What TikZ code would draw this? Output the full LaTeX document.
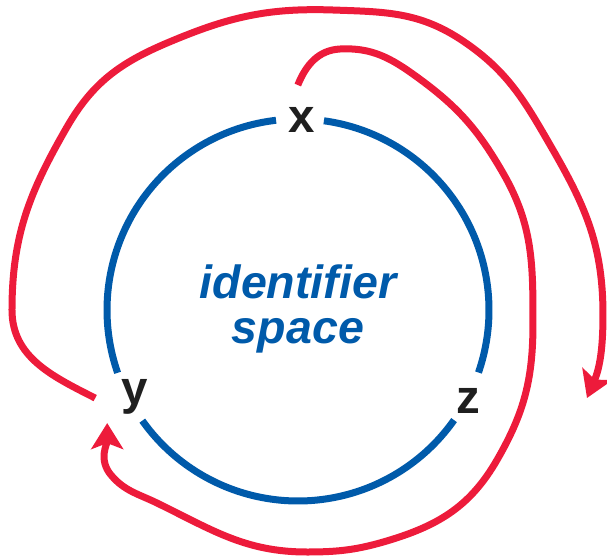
\documentclass[tikz,border=0pt]{standalone}
\usepackage{fontspec}
\setmainfont{Liberation Sans}
\definecolor{ringblue}{RGB}{0, 90, 170}
\definecolor{hopred}{RGB}{237, 27, 59}
\usetikzlibrary{arrows.meta}

\begin{document}
\begin{tikzpicture}[
        ring/.style={draw=ringblue, line width=0.14cm},
        hop/.style={draw=hopred, line width=0.14cm, -{Stealth[length=0.52cm, width=0.64cm, inset=0.12cm]}},
        lbl/.style={font=\fontsize{27}{27}\selectfont\bfseries, text=black!88, inner sep=0pt}
    ]
        \useasboundingbox (-5.96,-4.9) rectangle (6.18,6.2);

        % Identifier ring, broken at the three keys
        \foreach \a/\b in {96.6/199.2, 215.4/324.8, 340.9/442.2}
            \draw[ring] (\a:3.82) arc[start angle=\a, end angle=\b, radius=3.82];

        \node[font=\fontsize{26.5}{25.6}\selectfont\bfseries\itshape, text=ringblue, align=center, inner sep=0pt] (space) at (0,0.02) {identifier\\space};

        % Keys on the ring
        \node[lbl] (x) at (89:3.8) {x};
        \node[lbl] (y) at (208:3.71) {y};
        \node[lbl] (z) at (332:3.86) {z};

        % Ends of the two hops
        \coordinate (ya) at ([xshift=-0.78cm, yshift=-0.02cm]y.center);
        \coordinate (past) at (5.78,-1.76);
        \coordinate (xa) at ([xshift=-0.07cm, yshift=0.7cm]x.center);
        \coordinate (yb) at ([xshift=-0.54cm, yshift=-0.52cm]y.center);

        % Outer hop: from y over the top, past z
        \draw[hop] (ya) to[out=153, in=-90] (-5.72,0) to[out=90, in=240] (-4.62,3.66)
            to[out=60, in=203] (-2.62,5.34) to[out=23, in=178] (0.7,6)
            to[out=-2, in=146] (3.3,5.38) to[out=-34, in=120] (5.1,3.2)
            to[out=-60, in=90] (6.1,-0.1) to[out=-90, in=67] (past);

        % Inner hop: from x round the right and bottom back to y
        \draw[hop] (xa) to[out=68, in=183] (0.84,5.22) to[out=3, in=144] (2.38,4.66)
            to[out=-36, in=120] (4.1,2.74) to[out=-60, in=90] (4.7,-0.26)
            to[out=-90, in=60] (3.98,-3.0) to[out=-120, in=17] (1.84,-4.6)
            to[out=-163, in=0] (0.18,-4.84) to[out=180, in=-26] (-2.82,-3.86)
            to[out=154, in=-50] (-3.74,-3.3) to[out=130, in=-90] (yb);
\end{tikzpicture}
\end{document}
